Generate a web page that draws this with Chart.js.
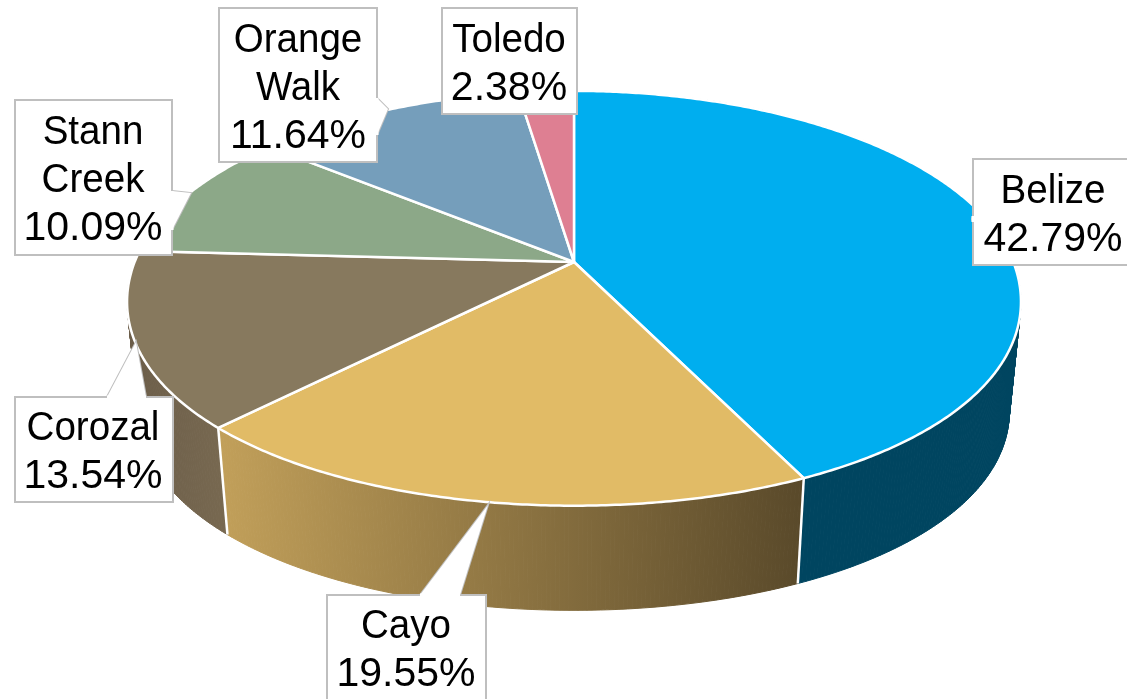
<!DOCTYPE html>
<html>
<head>
<meta charset="utf-8">
<style>html,body{margin:0;padding:0;background:#fff}canvas{display:block}</style>
<script src="https://cdn.jsdelivr.net/npm/chart.js@4"></script>
</head>
<body>
<canvas id="c" width="1127" height="699"></canvas>
<script>
const categories = ['Belize','Cayo','Corozal','Stann Creek','Orange Walk','Toledo'];
const shares = [42.79,19.55,13.54,10.09,11.64,2.38];
const topColors = ['#00AEEF','#E1BB66','#87795E','#8CA888','#759EBB','#DE7F92'];
const wallColors = [['#004560','#004560'],['#C2A05A','#59492A'],['#6B5D49','#776850'],null,null,null];

// perspective of the tilted disc, relative to the radius Chart.js computes
const SX = 1.685, SY = 0.771, TILT = 0.175, DEPTH = 111, SHRINK = 0.974, BULGE = 0.012;
const project = (el, a, bottom) => {
  const s = Math.sin(a);
  const d = 1 - TILT * s;
  const b = s > 0 ? 1 + BULGE * Math.pow(Math.sin(2 * a), 2) : 1;
  const dx = b * SX * el.outerRadius * Math.cos(a) / d;
  const dy = b * SY * el.outerRadius * s / d;
  return bottom ? [el.x + SHRINK * dx, el.y + DEPTH + SHRINK * dy] : [el.x + dx, el.y + dy];
};
const STEP = Math.PI / 180 / 2;

Chart.ArcElement.prototype.draw = function (ctx) {
  const o = this.options;
  ctx.save();
  ctx.beginPath();
  ctx.moveTo(this.x, this.y);
  for (let a = this.startAngle; a < this.endAngle; a += STEP) ctx.lineTo(...project(this, a));
  ctx.lineTo(...project(this, this.endAngle));
  ctx.closePath();
  ctx.fillStyle = o.backgroundColor;
  ctx.fill();
  ctx.strokeStyle = o.borderColor;
  ctx.lineWidth = o.borderWidth;
  ctx.lineJoin = 'round';
  ctx.stroke();
  ctx.restore();
};

const wallPlugin = {
  id: 'walls',
  beforeDatasetsDraw(chart) {
    const ctx = chart.ctx;
    chart.getDatasetMeta(0).data.forEach((el, i) => {
      const wc = wallColors[i];
      if (!wc) return;
      const xs = [project(el, el.startAngle), project(el, el.endAngle)];
      const g = ctx.createLinearGradient(i === 1 ? xs[1][0] : 127, 0, i === 1 ? xs[0][0] : xs[1][0] + 80, 0);
      g.addColorStop(0, wc[0]);
      g.addColorStop(1, wc[1]);
      ctx.save();
      ctx.fillStyle = g;
      ctx.strokeStyle = g;
      ctx.lineWidth = 1;
      for (let a = el.startAngle; a < el.endAngle; a += STEP) {
        const b = Math.min(a + STEP, el.endAngle);
        ctx.beginPath();
        ctx.moveTo(...project(el, a));
        ctx.lineTo(...project(el, b));
        ctx.lineTo(...project(el, b, true));
        ctx.lineTo(...project(el, a, true));
        ctx.closePath();
        ctx.fill();
        ctx.stroke();
      }
      ctx.restore();
    });
    // white seams between the wall pieces
    const meta = chart.getDatasetMeta(0).data;
    ctx.save();
    ctx.strokeStyle = '#fff';
    ctx.lineWidth = 2.5;
    [meta[1].startAngle, meta[1].endAngle].forEach(a => {
      ctx.beginPath();
      ctx.moveTo(...project(meta[1], a));
      ctx.lineTo(...project(meta[1], a, true));
      ctx.stroke();
    });
    ctx.restore();
  }
};

// box: x0,y0,x1,y1 ; pointer: three points ; text: centre x and first baseline
const callouts = [
  {box:[973,159,1132,265], ptr:[[973,216],[972,219],[973,222]], cx:1053, base:203},
  {box:[327,595,486,706], ptr:[[420,595],[488,505],[460,595]], cx:406, base:638},
  {box:[15,397,173,502], ptr:[[107,397],[136,342],[146,397]], cx:93, base:440},
  {box:[15,100,172,255], ptr:[[172,191],[191,193],[172,230]], cx:93, base:144},
  {box:[219,8,377,162], ptr:[[377,98],[388,109],[377,135]], cx:298, base:52},
  {box:[442,8,577,114], ptr:null, cx:509, base:52}
];
const LINE = 48;

const calloutPlugin = {
  id: 'callouts',
  afterDatasetsDraw(chart) {
    const ctx = chart.ctx;
    ctx.save();
    callouts.forEach((c, i) => {
      const [x0,y0,x1,y1] = c.box;
      ctx.beginPath();
      ctx.rect(x0,y0,x1-x0,y1-y0);
      ctx.fillStyle = '#fff';
      ctx.strokeStyle = '#BFBFBF';
      ctx.lineWidth = 2;
      ctx.fill();
      ctx.stroke();
      if (c.ptr) {
        ctx.beginPath();
        ctx.moveTo(...c.ptr[0]);
        ctx.lineTo(...c.ptr[1]);
        ctx.lineTo(...c.ptr[2]);
        ctx.stroke();
        ctx.fill();
        // hide the box edge under the pointer mouth
        ctx.beginPath();
        ctx.moveTo(...c.ptr[0]);
        ctx.lineTo(...c.ptr[2]);
        ctx.strokeStyle = '#fff';
        ctx.lineWidth = 3;
        ctx.stroke();
      }
      ctx.fillStyle = '#000';
      ctx.font = '41px "Liberation Sans"';
      ctx.textAlign = 'center';
      ctx.textBaseline = 'alphabetic';
      const names = categories[i].split(' ');
      names.forEach((n, k) => {
        ctx.fillText(n, c.cx, c.base + k * LINE, ctx.measureText(n).width * 0.94);
      });
      ctx.fillText(shares[i].toFixed(2) + '%', c.cx, c.base + names.length * LINE);
    });
    ctx.restore();
  }
};

new Chart(document.getElementById('c'), {
  type: 'pie',
  data: {
    labels: categories,
    datasets: [{ data: shares, backgroundColor: topColors, borderColor: '#fff', borderWidth: 2.5 }]
  },
  options: {
    responsive: false,
    animation: false,
    layout: { padding: { left: 21, right: 0, top: 0, bottom: 175 } },
    plugins: { legend: { display: false }, tooltip: { enabled: false } }
  },
  plugins: [wallPlugin, calloutPlugin]
});
</script>
</body>
</html>
